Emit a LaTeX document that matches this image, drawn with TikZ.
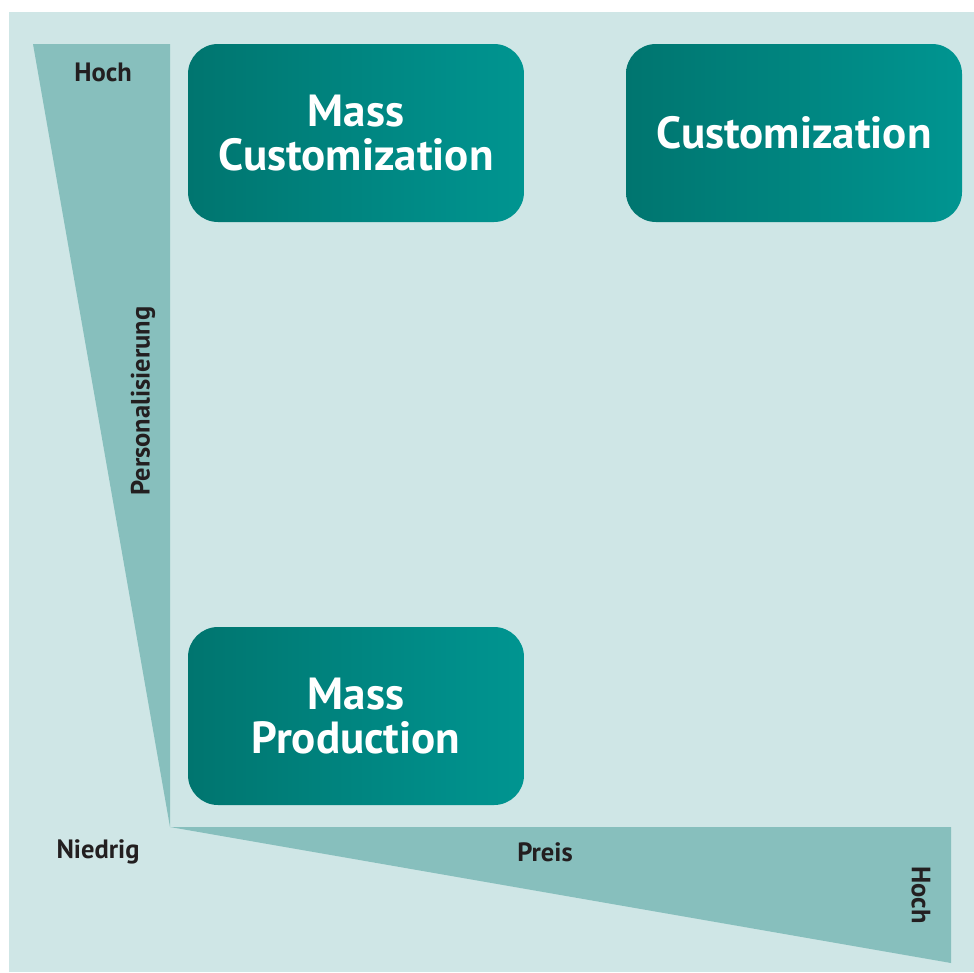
\documentclass[tikz,border=0pt]{standalone}
\usepackage{fontspec}
\setmainfont{PT Sans}
\usetikzlibrary{positioning, shapes, calc}

\definecolor{bgteal}{HTML}{CFE6E6}
\definecolor{wedgeteal}{HTML}{87BFBD}
\definecolor{boxdark}{HTML}{00756F}
\definecolor{boxlight}{HTML}{009591}
\definecolor{labeltext}{HTML}{231F20}

\begin{document}
\begin{tikzpicture}[
		x=1pt, y=-1pt,
		segment/.style={rounded corners=30pt, minimum width=336pt, minimum height=178pt,
			left color=boxdark, right color=boxlight, draw=none, text=white, align=center,
			font=\bfseries\fontsize{45}{44}\selectfont},
		axislabel/.style={text=labeltext, inner sep=0pt, font=\bfseries\fontsize{26.5}{28}\selectfont},
		wedge/.style={fill=wedgeteal, draw=none}
		]
		% Background
		\useasboundingbox (0,0) rectangle (974,972);
		\fill[bgteal] (9,12) rectangle (974,972);

		% Axes as wedges
		\coordinate (origin) at (170,827);
		\fill[wedge] (33,44) -- (170,44) -- (origin) -- cycle;
		\fill[wedge] (origin) -- (951,827) -- (951,963) -- cycle;

		% Segments
		\node[segment] (masscust) at (356,133) {Mass\\Customization};
		\node[segment] (cust) at (794,133) {Customization};
		\node[segment] (massprod) at (356,716) {Mass\\Production};

		% Labels
		\node[axislabel] (yhigh) at (103,72) {Hoch};
		\node[axislabel, rotate=90] (ylabel) at (143,401) {Personalisierung};
		\node[axislabel] (low) at (98,852) {Niedrig};
		\node[axislabel] (xlabel) at (545,852) {Preis};
		\node[axislabel, rotate=-90] (xhigh) at (921,895) {Hoch};

	\end{tikzpicture}
\end{document}
